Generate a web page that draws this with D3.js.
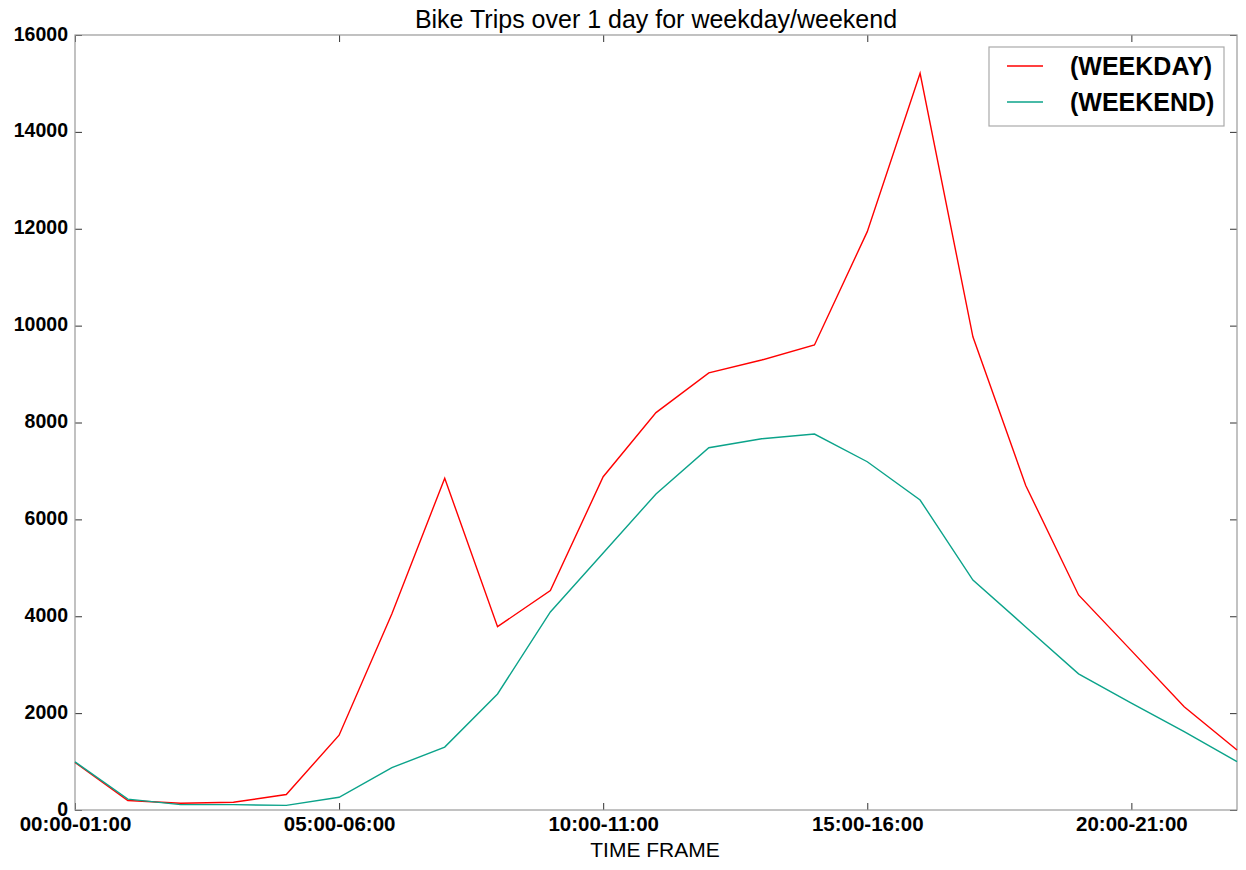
<!DOCTYPE html>
<html>
<head>
<meta charset="utf-8">
<script src="https://cdn.jsdelivr.net/npm/d3@7"></script>
<style>
  body { margin: 0; background: #fff; }
  text { font-family: "Liberation Sans", Arial, sans-serif; }
</style>
</head>
<body>
<div id="plot"></div>
<script>
const timeFrames = [
  "00:00-01:00", "01:00-02:00", "02:00-03:00", "03:00-04:00", "04:00-05:00",
  "05:00-06:00", "06:00-07:00", "07:00-08:00", "08:00-09:00", "09:00-10:00",
  "10:00-11:00", "11:00-12:00", "12:00-13:00", "13:00-14:00", "14:00-15:00",
  "15:00-16:00", "16:00-17:00", "17:00-18:00", "18:00-19:00", "19:00-20:00",
  "20:00-21:00", "21:00-22:00", "22:00-23:00"
];
const weekday = [980, 195, 140, 160, 320, 1545, 4050, 6850, 3785, 4530,
  6880, 8205, 9025, 9290, 9600, 11940, 15210, 9770, 6700, 4440,
  3290, 2130, 1240];
const weekend = [995, 225, 110, 110, 95, 262, 874, 1300, 2395, 4088,
  5306, 6524, 7480, 7665, 7762, 7190, 6400, 4748, 3780, 2810,
  2205, 1620, 998];
const yTicks = [0, 2000, 4000, 6000, 8000, 10000, 12000, 14000, 16000];
const xTickIdx = [0, 5, 10, 15, 20];

const W = 1246, H = 870;
const mLeft = 75, mRight = 1237, mTop = 35, mBottom = 810;

const svg = d3.select("#plot").append("svg")
  .attr("width", W).attr("height", H);

const x = d3.scaleLinear().domain([0, timeFrames.length - 1]).range([mLeft, mRight]);
const y = d3.scaleLinear().domain([0, 16000]).range([mBottom, mTop]);

// title
svg.append("text")
  .attr("x", (mLeft + mRight) / 2).attr("y", 28)
  .attr("text-anchor", "middle")
  .style("font-size", "25px")
  .text("Bike Trips over 1 day for weekday/weekend");

// y axis
const yAxis = d3.axisLeft(y).tickValues(yTicks).tickSize(-7).tickPadding(7)
  .tickFormat(d3.format("d"));
const gy = svg.append("g").attr("transform", `translate(${mLeft},0)`).call(yAxis);
gy.select(".domain").remove();
gy.selectAll("text").style("font-size", "19.5px").style("font-weight", "bold").attr("dy", "0.26em");

// right ticks
const gyr = svg.append("g").attr("transform", `translate(${mRight},0)`)
  .call(d3.axisRight(y).tickValues(yTicks).tickSize(-7).tickFormat(""));
gyr.select(".domain").remove();

// x axis
const xAxis = d3.axisBottom(x).tickValues(xTickIdx).tickSize(-7).tickPadding(5)
  .tickFormat(i => timeFrames[i]);
const gx = svg.append("g").attr("transform", `translate(0,${mBottom})`).call(xAxis);
gx.select(".domain").remove();
gx.selectAll("text").style("font-size", "20.5px").style("font-weight", "bold").attr("dy", "0.8em");

const gxt = svg.append("g").attr("transform", `translate(0,${mTop})`)
  .call(d3.axisTop(x).tickValues(xTickIdx).tickSize(-7).tickFormat(""));
gxt.select(".domain").remove();

svg.selectAll(".tick line").attr("stroke", "#333");

// frame
svg.append("rect")
  .attr("x", mLeft).attr("y", mTop)
  .attr("width", mRight - mLeft).attr("height", mBottom - mTop)
  .attr("fill", "none").attr("stroke", "#999").attr("stroke-width", 1.2);

// x label
svg.append("text")
  .attr("x", (mLeft + mRight) / 2 - 1).attr("y", 857)
  .attr("text-anchor", "middle")
  .style("font-size", "21px")
  .text("TIME FRAME");

const line = d3.line().x((d, i) => x(i)).y(d => y(d));

const series = [
  { name: "(WEEKDAY)", values: weekday, color: "#ff0000" },
  { name: "(WEEKEND)", values: weekend, color: "#0ba38a" }
];

svg.selectAll("path.series")
  .data(series)
  .enter()
  .append("path")
  .attr("class", "series")
  .attr("d", d => line(d.values))
  .attr("fill", "none")
  .attr("stroke", d => d.color)
  .attr("stroke-width", 1.4);

// legend
const lg = svg.append("g");
lg.append("rect")
  .attr("x", 989).attr("y", 47).attr("width", 235).attr("height", 79)
  .attr("fill", "#fff").attr("stroke", "#aaa").attr("stroke-width", 1.2);
series.forEach((s, i) => {
  const yy = 66 + i * 36;
  lg.append("line")
    .attr("x1", 1007).attr("x2", 1043).attr("y1", yy).attr("y2", yy)
    .attr("stroke", s.color).attr("stroke-width", 1.4);
  lg.append("text")
    .attr("x", 1070).attr("y", yy + 9)
    .style("font-size", "25px").style("font-weight", "bold")
    .text(s.name);
});
</script>
</body>
</html>
